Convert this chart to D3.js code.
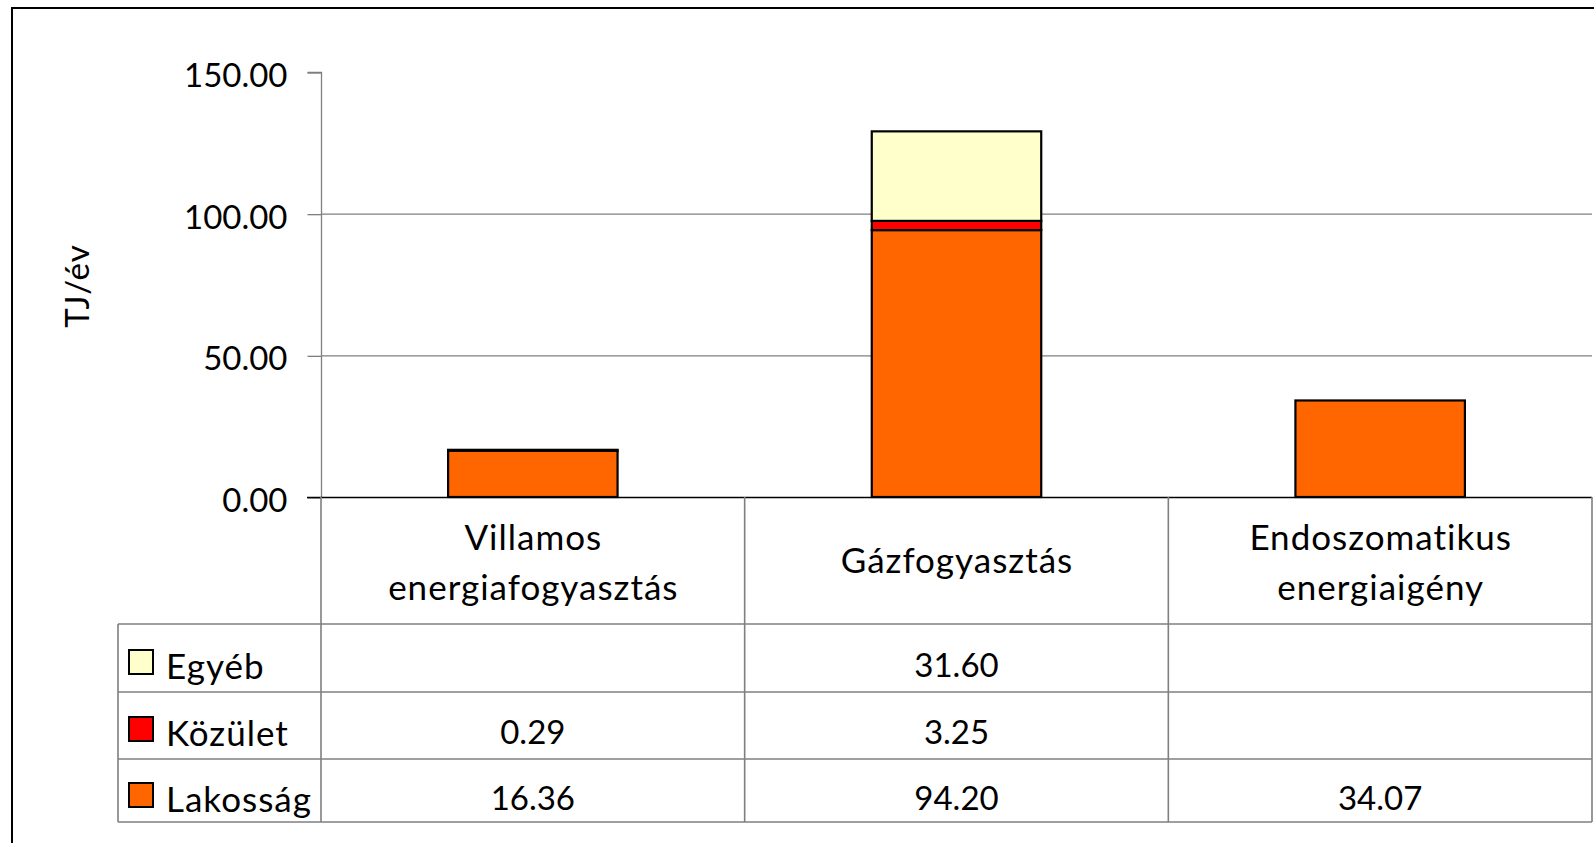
<!DOCTYPE html>
<html><head><meta charset="utf-8">
<script src="https://cdn.jsdelivr.net/npm/d3@7"></script>
<style>html,body{margin:0;padding:0;background:#fff;}svg{display:block;font-family:Lato,"Open Sans",sans-serif;}</style>
</head><body>
<svg id="c" width="1594" height="843"></svg>
<script>
const categories = ["Villamos\nenergiafogyasztás", "Gázfogyasztás", "Endoszomatikus\nenergiaigény"];
const seriesNames = ["Lakosság", "Közület", "Egyéb"];
const lakossag = [16.36, 94.20, 34.07];
const kozulet = [0.29, 3.25, null];
const egyeb = [null, 31.60, null];
const seriesColors = ["#FF6600", "#FF0000", "#FFFFCC"];
const yTicks = [0, 50, 100, 150];
const yTitle = "TJ/év";

const seriesValues = [lakossag, kozulet, egyeb];
const svg = d3.select("#c");
const FS = 33;      // numbers
const FT = 35;      // words
const LS = 1;       // letter spacing for words

// outer border
svg.append("rect").attr("x", 12).attr("y", 8).attr("width", 1600).attr("height", 900)
  .attr("fill", "none").attr("stroke", "#000").attr("stroke-width", 2);

const x0 = 321, x1 = 1592, yTop = 72, yBot = 497;
const x = d3.scaleBand().domain(categories).range([x0, x1]).padding(0);
const y = d3.scaleLinear().domain([0, 150]).range([yBot, yTop]);

// gridlines
svg.append("g").selectAll("line").data(yTicks.filter(t => t > 0 && t < 150)).join("line")
  .attr("x1", x0).attr("x2", x1).attr("y1", d => y(d) + 0.5).attr("y2", d => y(d) + 0.5)
  .attr("stroke", "#7f7f7f").attr("stroke-width", 1.3);

// y axis
const yAxis = d3.axisLeft(y).tickValues(yTicks).tickSize(14).tickPadding(20).tickFormat(d3.format(".2f"));
const ga = svg.append("g").attr("transform", `translate(${x0 + 0.5},0.5)`).call(yAxis);
ga.select(".domain").attr("stroke", "#7f7f7f").attr("stroke-width", 1.3).attr("d", `M-14,${yTop}H0V${yBot}`);
ga.selectAll(".tick line").attr("stroke", "#7f7f7f").attr("stroke-width", 1.3);
ga.selectAll(".tick text").attr("font-size", FS).attr("font-family", "Lato").attr("fill", "#000").attr("dy", "0.42em");

// y title
svg.append("text").attr("transform", `translate(89,286) rotate(-90)`).attr("text-anchor", "middle")
  .attr("font-size", 33).attr("letter-spacing", 1).attr("font-family", "Lato").text(yTitle);

// stacked bars
const rows = categories.map((c, i) => {
  const o = {cat: c};
  seriesNames.forEach((s, j) => o[s] = seriesValues[j][i] || 0);
  return o;
});
const stack = d3.stack().keys(seriesNames)(rows);
const bw = x.bandwidth() * 0.4;
svg.append("g").selectAll("g").data(stack).join("g")
  .attr("fill", (d, i) => seriesColors[i])
  .selectAll("rect").data(d => d.filter(p => p[1] - p[0] > 0)).join("rect")
  .attr("x", d => x(d.data.cat) + (x.bandwidth() - bw) / 2)
  .attr("width", bw)
  .attr("y", d => y(d[1]))
  .attr("height", d => y(d[0]) - y(d[1]))
  .attr("stroke", "#000").attr("stroke-width", 2.2);

// zero line
svg.append("line").attr("x1", x0 - 14).attr("x2", x1).attr("y1", yBot + 0.5).attr("y2", yBot + 0.5)
  .attr("stroke", "#000").attr("stroke-width", 1.3);

// data table
const hdrBot = 624;
const rowLines = [624, 692, 759, 822];
const legX = 118;
const tbl = svg.append("g").attr("stroke", "#7f7f7f").attr("stroke-width", 1.6);
[x0, ...categories.map(c => x(c) + x.bandwidth())].forEach(vx => {
  tbl.append("line").attr("x1", vx).attr("x2", vx).attr("y1", yBot).attr("y2", 822);
});
tbl.append("line").attr("x1", legX).attr("x2", legX).attr("y1", hdrBot).attr("y2", 822);
rowLines.forEach(ry => tbl.append("line").attr("x1", legX).attr("x2", x1).attr("y1", ry).attr("y2", ry));

// category labels
categories.forEach(c => {
  const lines = c.split("\n");
  const cx = x(c) + x.bandwidth() / 2 + LS / 2;
  const base0 = lines.length === 1 ? 573 : 550;
  lines.forEach((ln, k) => {
    svg.append("text").attr("x", cx).attr("y", base0 + k * 50).attr("text-anchor", "middle")
      .attr("font-size", FT).attr("letter-spacing", LS).attr("font-family", "Lato").text(ln);
  });
});

// table rows (top to bottom: Egyéb, Közület, Lakosság)
const tableOrder = [2, 1, 0];
const baselines = [677, 744, 810];
tableOrder.forEach((si, r) => {
  const by = baselines[r];
  svg.append("rect").attr("x", 129).attr("y", by - 27).attr("width", 24).attr("height", 24)
    .attr("fill", seriesColors[si]).attr("stroke", "#000").attr("stroke-width", 2);
  svg.append("text").attr("x", 166).attr("y", by + 2).attr("font-size", FT).attr("letter-spacing", LS)
    .attr("font-family", "Lato").text(seriesNames[si]);
  categories.forEach((c, i) => {
    const v = seriesValues[si][i];
    if (v == null) return;
    svg.append("text").attr("x", x(c) + x.bandwidth() / 2).attr("y", by).attr("text-anchor", "middle")
      .attr("font-size", FS).attr("font-family", "Lato").text(d3.format(".2f")(v));
  });
});
</script>
</body></html>
